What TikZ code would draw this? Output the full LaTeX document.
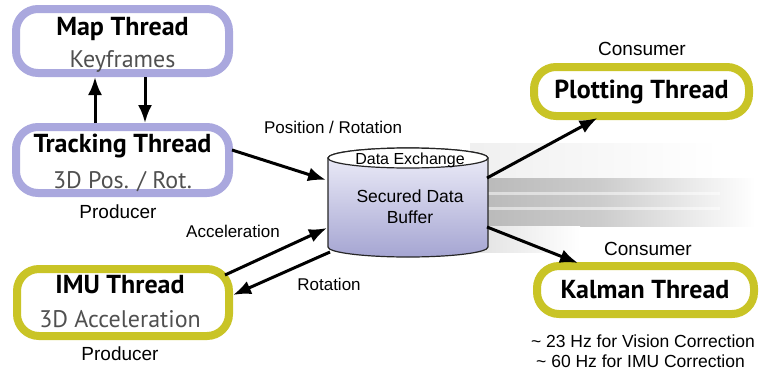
\documentclass[tikz,border=0pt]{standalone}
\usepackage{fontspec}
\usetikzlibrary{arrows.meta,calc}
\newfontfamily\labfont{Liberation Sans}
\newfontfamily\boxfont{PT Sans}
\definecolor{lav}{RGB}{170,168,222}
\definecolor{olive}{RGB}{201,196,38}
\definecolor{subgray}{RGB}{80,80,80}
\definecolor{bufbot}{RGB}{165,165,210}
\definecolor{buftop}{RGB}{240,240,250}

\begin{document}
\begin{tikzpicture}[x=1pt,y=-1pt,
  thread/.style={draw, line width=8pt, rounded corners=22pt, fill=white, inner sep=0pt},
  lavbox/.style={thread, draw=lav},
  olbox/.style={thread, draw=olive},
  title/.style={font=\boxfont\bfseries\fontsize{26}{30}\selectfont, anchor=base, inner sep=0pt},
  sub/.style={font=\boxfont\fontsize{24}{28}\selectfont, text=subgray, anchor=base, inner sep=0pt},
  lab/.style={font=\labfont\fontsize{17}{20}\selectfont, anchor=base, inner sep=0pt},
  role/.style={font=\labfont\fontsize{19}{22}\selectfont, anchor=base, inner sep=0pt},
  flow/.style={line width=3pt, -{Latex[length=18pt,width=14pt]}},
]
\useasboundingbox (0,0) rectangle (759,372);

% motion streaks behind the buffer
\fill[left color=black!6, right color=white] (470,143) rectangle (720,178);
\fill[left color=black!28, right color=black!20] (470,178) rectangle (600,226);
\fill[left color=black!20, right color=white] (600,178) rectangle (755,226);
\fill[white, opacity=0.5] (470,192) rectangle (720,195);
\fill[white, opacity=0.5] (470,207) rectangle (720,210);
\fill[left color=black!12, right color=white] (470,226) rectangle (580,252);

% secured data buffer (cylinder)
\node[minimum width=160pt, minimum height=109pt, inner sep=0pt, outer sep=0pt] (buf) at (408,202.5) {};
\path[top color=buftop, bottom color=bufbot, draw=black!85, line width=1.2pt]
  (328,158) -- (328,247) arc[start angle=180, end angle=0, x radius=80, y radius=10]
  -- (488,158) arc[start angle=0, end angle=-180, x radius=80, y radius=10] -- cycle;
\draw[fill=white, draw=black!85, line width=1.2pt] (408,158) ellipse [x radius=80, y radius=10];
\node[lab, font=\labfont\fontsize{16}{19}\selectfont] (bufx) at (410,164) {Data Exchange};
\node[lab, font=\labfont\fontsize{17.5}{20}\selectfont] (bufa) at (410,202) {Secured Data};
\node[lab, font=\labfont\fontsize{17.5}{20}\selectfont] (bufb) at (410,223) {Buffer};

% threads
\node[lavbox, minimum width=213pt, minimum height=64pt] (map) at (122.5,41) {};
\node[title] (mapT) at (122.5,35) {Map Thread};
\node[sub] (mapS) at (122.5,67) {Keyframes};

\node[lavbox, minimum width=213pt, minimum height=66pt] (track) at (122.5,160) {};
\node[title] (trackT) at (122.5,152) {Tracking Thread};
\node[sub] (trackS) at (122.5,188) {3D Pos. / Rot.};
\node[role] (trackR) at (118,218) {Producer};

\node[olbox, minimum width=212pt, minimum height=67pt] (imu) at (123,302.5) {};
\node[title] (imuT) at (120,293) {IMU Thread};
\node[sub] (imuS) at (120,327) {3D Acceleration};
\node[role] (imuR) at (120,360) {Producer};

\node[olbox, minimum width=215pt, minimum height=49pt] (plot) at (641.5,91.5) {};
\node[title] (plotT) at (641.5,98) {Plotting Thread};
\node[role] (plotR) at (642,55) {Consumer};

\node[olbox, minimum width=217pt, minimum height=48pt] (kal) at (645.5,290) {};
\node[title] (kalT) at (645,298) {Kalman Thread};
\node[role] (kalR) at (648,255) {Consumer};
\node[lab, font=\labfont\fontsize{17.5}{20}\selectfont] (hz1) at (643,347) {\textasciitilde{} 23 Hz for Vision Correction};
\node[lab, font=\labfont\fontsize{17.5}{20}\selectfont] (hz2) at (640.5,367) {\textasciitilde{} 60 Hz for IMU Correction};

% data flow
\draw[flow] ([xshift=-27.5pt]track.north) -- ([xshift=-27.5pt]map.south);
\draw[flow] ([xshift=22.5pt]map.south) -- ([xshift=22.5pt]track.north);
\draw[flow] ($(track.east)+(-1,-10)$) -- ($(buf.west)+(-2,-22.5)$);
\draw[flow] ($(imu.north east)+(-8,10)$) -- ($(buf.west)+(-1,25.5)$);
\draw[flow] ($(buf.south west)+(2,-5)$) -- ($(imu.east)+(0,-7.5)$);
\draw[flow] ($(buf.east)+(-1,-24.5)$) -- ($(plot.south)+(-44,-2)$);
\draw[flow] ($(buf.east)+(-1,24.5)$) -- ($(kal.north)+(-67.5,1)$);

\node[lab] (posL) at (333,133) {Position / Rotation};
\node[lab] (accL) at (233,237) {Acceleration};
\node[lab] (rotL) at (329,290) {Rotation};
\end{tikzpicture}
\end{document}
